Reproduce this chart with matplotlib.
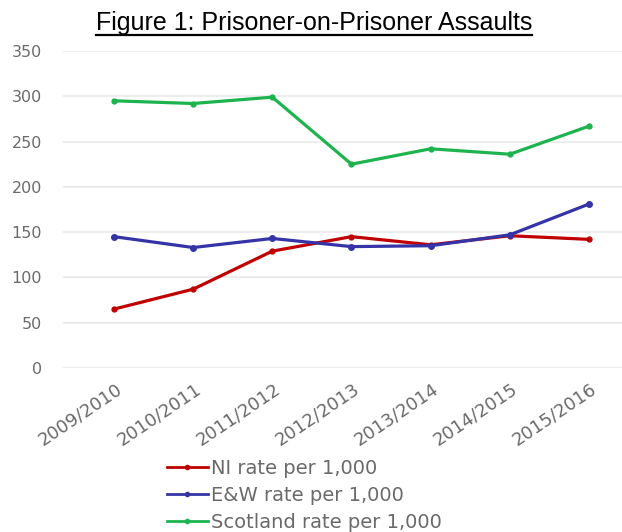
import matplotlib
matplotlib.use("Agg")
import matplotlib.pyplot as plt
from matplotlib.lines import Line2D
from matplotlib.transforms import ScaledTranslation

# data
years = ["2009/2010", "2010/2011", "2011/2012", "2012/2013",
         "2013/2014", "2014/2015", "2015/2016"]
ni_rate = [65, 87, 129, 145, 136, 146, 142]
ew_rate = [145, 133, 143, 134, 135, 147, 181]
scotland_rate = [295, 292, 299, 225, 242, 236, 267]
y_ticks = [0, 50, 100, 150, 200, 250, 300, 350]

plt.rcParams['font.family'] = ['DejaVu Sans']
grey = "#6a6a6a"

fig = plt.figure(figsize=(6.22, 5.32), dpi=100)
ax = fig.add_axes([0.1013, 0.3083, 0.8987, 0.5959])

x = list(range(len(years)))
ax.plot(x, ni_rate, color="#C00000", lw=2.3, marker="o", ms=3.5,
        label="NI rate per 1,000")
ax.plot(x, ew_rate, color="#3434A6", lw=2.3, marker="o", ms=4,
        label="E&W rate per 1,000")
ax.plot(x, scotland_rate, color="#1DB34E", lw=2.3, marker="o", ms=3.5,
        label="Scotland rate per 1,000")

ax.set_xlim(-0.644, 6.417)
ax.set_ylim(0, 350)
ax.set_yticks(y_ticks)
ax.set_xticks(x)
ax.set_xticklabels(years, rotation=34, ha="right", va="top",
                   rotation_mode="anchor")
ax.tick_params(axis="both", length=0, colors=grey)
ax.tick_params(axis="y", pad=15, labelsize=11.5)
ax.tick_params(axis="x", pad=8.5, labelsize=13)
shift = ScaledTranslation(1 / 100, 0, fig.dpi_scale_trans)
for lab in ax.get_xticklabels():
    lab.set_transform(lab.get_transform() + shift)
ax.grid(axis="y", color="#EAEAEA", lw=1.2)
ax.set_axisbelow(True)
for s in ax.spines.values():
    s.set_visible(False)

leg = fig.legend(loc="upper left", frameon=False,
                 fontsize=14, handlelength=2.1, handletextpad=0.15,
                 labelspacing=0.4, borderaxespad=0, borderpad=0)
for t in leg.get_texts():
    t.set_color(grey)
for h in leg.legend_handles:
    h.set_linewidth(2)
    h.set_markersize(3)
leg.set_bbox_to_anchor((167 / 622, 1 - 459 / 532), transform=fig.transFigure)

# underlined title
title = fig.text(314 / 622, 1 - 30 / 532, "Figure 1: Prisoner-on-Prisoner Assaults",
                 ha="center", va="baseline", fontsize=18,
                 family=["Liberation Sans", "DejaVu Sans"], color="black")
fig.canvas.draw()
bb = title.get_window_extent().transformed(fig.transFigure.inverted())
fig.add_artist(Line2D([bb.x0, bb.x1], [1 - 35 / 532, 1 - 35 / 532],
                      transform=fig.transFigure, color="black", lw=1.6))

fig.savefig("out.png", dpi=100)
